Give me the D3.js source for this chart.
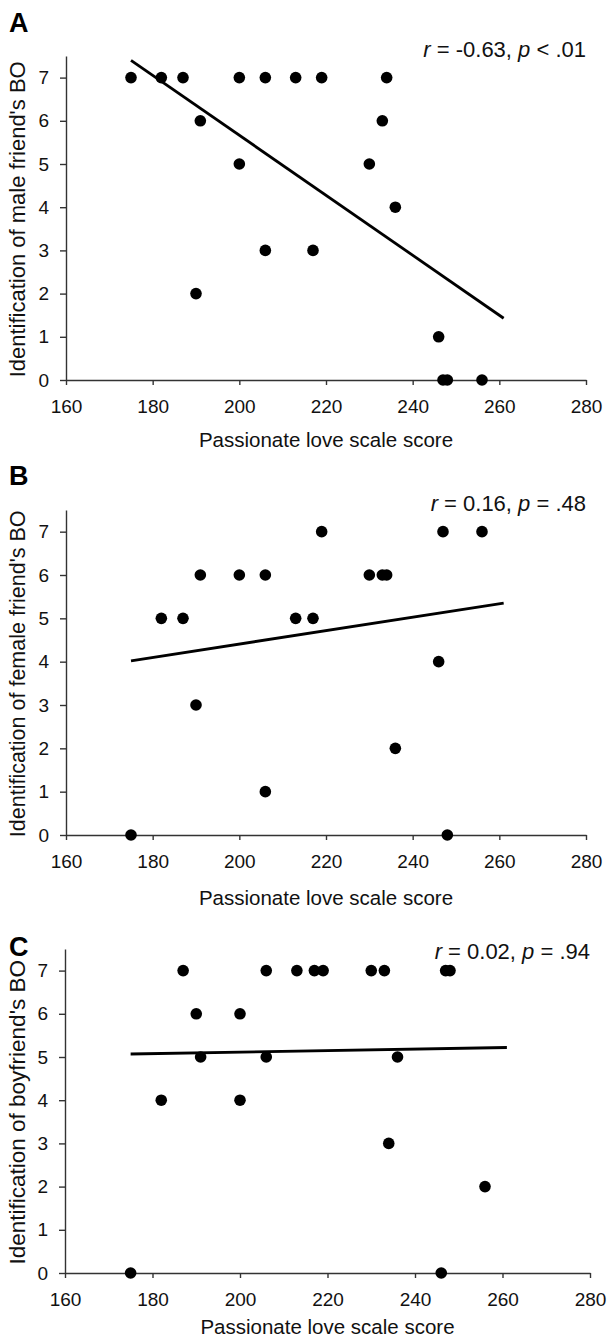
<!DOCTYPE html>
<html>
<head>
<meta charset="UTF-8">
<title>Passionate love and identification of BO</title>
<style>
  body { margin: 0; background: #fff; }
  svg { display: block; font-family: "Liberation Sans", Arial, sans-serif; }
</style>
</head>
<body>
<svg></svg>
<script src="https://d3js.org/d3.v7.min.js"></script>
<script>

let width = 609, height = 1343;

// A: male friend's BO
let aScore = [175, 182, 187, 200, 206, 213, 219, 234, 191, 233, 200, 230, 236, 206, 217, 190, 246, 247, 248, 256];
let aBO    = [7, 7, 7, 7, 7, 7, 7, 7, 6, 6, 5, 5, 4, 3, 3, 2, 1, 0, 0, 0];
// B: female friend's BO
let bScore = [219, 247, 256, 191, 200, 206, 230, 233, 234, 182, 187, 213, 217, 246, 190, 236, 206, 175, 248];
let bBO    = [7, 7, 7, 6, 6, 6, 6, 6, 6, 5, 5, 5, 5, 4, 3, 2, 1, 0, 0];
// C: boyfriend's BO
let cScore = [187, 206, 213, 217, 219, 230, 233, 247, 248, 190, 200, 191, 206, 236, 182, 200, 234, 256, 175, 246];
let cBO    = [7, 7, 7, 7, 7, 7, 7, 7, 7, 6, 6, 5, 5, 5, 4, 4, 3, 2, 0, 0];

// regression line ends (BO value at score 175 and 261)
let fitScore = [175, 261];
let aFit = [7.40, 1.43];
let bFit = [4.02, 5.35];
let cFit = [5.07, 5.22];

let statR = ["-0.63", "0.16", "0.02"];
let statP = ["< .01", "= .48", "= .94"];
let letters = ["A", "B", "C"];
let yTitles = ["Identification of male friend's BO", "Identification of female friend's BO", "Identification of boyfriend's BO"];
let xTitle = "Passionate love scale score";
let xTicks = [160, 180, 200, 220, 240, 260, 280];
let yTicks = [0, 1, 2, 3, 4, 5, 6, 7];

let svg = d3.select("svg")
    .attr("width", width)
    .attr("height", height);

// layout of the three panels
let panels = [
  { score: aScore, bo: aBO, fit: aFit, top: 56,  bottom: 380,  left: 66, right: 586, letterY: 32,  statY: 57,  titleGap: 67, yTitleSize: 22 },
  { score: bScore, bo: bBO, fit: bFit, top: 510, bottom: 835,  left: 66, right: 586, letterY: 485, statY: 511, titleGap: 70, yTitleSize: 21.5 },
  { score: cScore, bo: cBO, fit: cFit, top: 949, bottom: 1273, left: 65, right: 590, letterY: 956, statY: 959, titleGap: 61, yTitleSize: 22.5 }
];

panels.forEach((p, i) => {
  let x = d3.scaleLinear().domain([160, 280]).range([p.left, p.right]);
  let y = d3.scaleLinear().domain([0, 7.5]).range([p.bottom, p.top]);

  let g = svg.append("g");

  // x axis
  let xa = g.append("g")
      .attr("transform", "translate(0," + p.bottom + ")")
      .call(d3.axisBottom(x).tickValues(xTicks).tickSize(5).tickPadding(15).tickSizeOuter(0));
  xa.selectAll("text").attr("font-size", 19).attr("fill", "#111").attr("font-family", null);

  // y axis
  let ya = g.append("g")
      .attr("transform", "translate(" + p.left + ",0)")
      .call(d3.axisLeft(y).tickValues(yTicks).tickSize(6).tickPadding(11).tickSizeOuter(0));
  ya.selectAll("text").attr("font-size", 19).attr("fill", "#111").attr("font-family", null);

  g.selectAll(".domain, .tick line").attr("stroke", "#333").attr("stroke-width", 1.4);

  // regression line
  let fitPts = fitScore.map((s, k) => [s, p.fit[k]]);
  g.append("path")
      .datum(fitPts)
      .attr("fill", "none")
      .attr("stroke", "#000")
      .attr("stroke-width", 2.8)
      .attr("d", d3.line().x(d => x(d[0])).y(d => y(d[1])));

  // points
  g.selectAll("circle")
      .data(p.score.map((s, k) => [s, p.bo[k]]))
      .enter()
      .append("circle")
      .attr("cx", d => x(d[0]))
      .attr("cy", d => y(d[1]))
      .attr("r", 5.8)
      .attr("fill", "#000");

  // panel letter
  g.append("text")
      .attr("x", 9)
      .attr("y", p.letterY)
      .attr("font-size", 27)
      .attr("font-weight", "bold")
      .text(letters[i]);

  // stats
  let st = g.append("text")
      .attr("x", p.right)
      .attr("y", p.statY)
      .attr("text-anchor", "end")
      .attr("font-size", 22)
      .attr("fill", "#111");
  st.append("tspan").attr("font-style", "italic").text("r");
  st.append("tspan").text(" = " + statR[i] + ", ");
  st.append("tspan").attr("font-style", "italic").text("p");
  st.append("tspan").text(" " + statP[i]);

  // x title
  g.append("text")
      .attr("x", (p.left + p.right) / 2)
      .attr("y", p.bottom + p.titleGap)
      .attr("text-anchor", "middle")
      .attr("font-size", 20.5)
      .attr("fill", "#111")
      .text(xTitle);

  // y title
  g.append("text")
      .attr("transform", "translate(25," + y(3.72) + ") rotate(-90)")
      .attr("text-anchor", "middle")
      .attr("font-size", p.yTitleSize)
      .attr("fill", "#111")
      .text(yTitles[i]);
});

</script>
</body>
</html>
